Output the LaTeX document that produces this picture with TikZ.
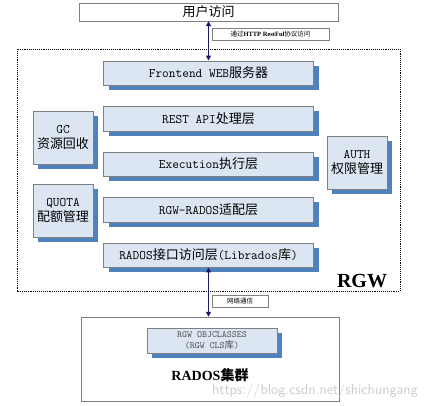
\documentclass[tikz,border=0pt]{standalone}
\usepackage{fontspec}
\setmainfont{Liberation Serif}
\newfontfamily\cjk{Noto Sans CJK SC}
\newcommand{\zh}[1]{{\cjk #1}}
\newcommand{\mn}[1]{{\ttfamily #1}}
\usetikzlibrary{arrows.meta,shadows}
\definecolor{layerfill}{RGB}{220,230,242}
\definecolor{layershadow}{RGB}{79,129,189}
\definecolor{linkblue}{RGB}{25,25,112}
\definecolor{boxline}{RGB}{128,128,128}
\tikzset{
  layer/.style={draw=boxline,fill=layerfill,inner sep=0pt,align=center,
    drop shadow={shadow xshift=5pt,shadow yshift=-5pt,fill=layershadow,opacity=1},
    font=\fontsize{13}{15.5}\selectfont},
  tag/.style={draw=boxline,fill=white,inner sep=0pt,minimum height=12pt,
    font=\fontsize{6.5}{8}\selectfont},
  link/.style={{Triangle[length=5pt,width=5pt]}-{Triangle[length=5pt,width=5pt]},
    linkblue,line width=1.5pt}
}
\begin{document}
\begin{tikzpicture}[x=1pt,y=-1pt]
\useasboundingbox (0,0) rectangle (442,405);

\node[draw=boxline,minimum width=259pt,minimum height=18pt,inner sep=0pt,
  font=\fontsize{13}{15}\selectfont] (user) at (208.5,12) {\zh{用户访问}};
\draw[densely dotted,line width=0.9pt] (17,49) rectangle (400,291);

\node[layer,minimum width=210pt,minimum height=24.5pt] (front) at (208.5,73) {\mn{Frontend WEB}\zh{服务器}};
\node[layer,minimum width=210pt,minimum height=24.5pt] (rest) at (208.5,118.5) {\mn{REST API}\zh{处理层}};
\node[layer,minimum width=210pt,minimum height=24.5pt] (exec) at (208.5,164) {\mn{Execution}\zh{执行层}};
\node[layer,minimum width=210pt,minimum height=24.5pt] (adapt) at (208.5,209.5) {\mn{RGW-RADOS}\zh{适配层}};
\node[layer,minimum width=210pt,minimum height=24.5pt] (librados) at (208.5,255) {\mn{RADOS}\zh{接口访问层}\mn{(Librados}\zh{库}\mn{)}};

\node[layer,minimum width=60pt,minimum height=53pt] (gc) at (63,137.5) {\mn{GC}\\\zh{资源回收}};
\node[layer,minimum width=60pt,minimum height=53pt] (quota) at (63,210.5) {\mn{QUOTA}\\\zh{配额管理}};
\node[layer,minimum width=60pt,minimum height=53pt] (auth) at (357,162.5) {\mn{AUTH}\\\zh{权限管理}};

\node[font=\fontsize{20}{22}\selectfont\bfseries] (rgw) at (362,281) {RGW};

\node[draw=boxline,minimum width=258pt,minimum height=84pt] (cluster) at (210,359) {};
\node[layer,minimum width=130pt,minimum height=25pt,text=black!70,
  font=\fontsize{9.5}{11}\selectfont] (cls) at (212,340.5) {\mn{RGW OBJCLASSES}\\\mn{(RGW CLS}\zh{库}\mn{)}};
\node[inner sep=0pt,font=\fontsize{14}{16}\selectfont\bfseries] (clustername) at (210,375) {RADOS\zh{集群}};

\draw[link] (user.south) -- (front.north);
\draw[link] (librados.south) -- (librados.south |- cluster.north);

\node[tag,minimum width=117pt] (httptag) at (270.5,34) {\zh{通过}\textbf{HTTP RestFul}\zh{协议访问}};
\node[tag,minimum width=56pt] (nettag) at (240,301) {\zh{网络通信}};

\node[inner sep=0pt,text=black!20,font=\fontsize{14.5}{16}\selectfont\sffamily] (mark) at (315,391) {https://blog.csdn.net/shichungang};
\end{tikzpicture}
\end{document}
